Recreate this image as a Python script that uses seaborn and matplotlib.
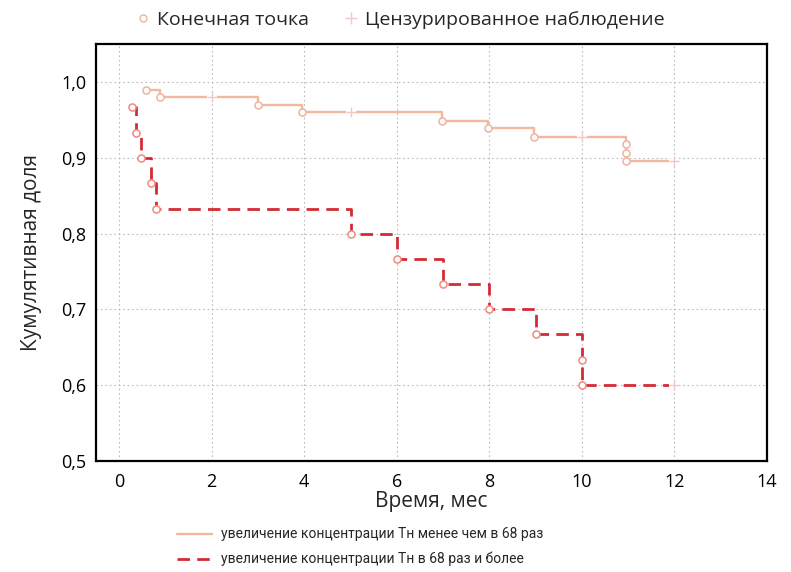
import numpy as np
import pandas as pd
import matplotlib
matplotlib.use("Agg")
import matplotlib.pyplot as plt
from matplotlib.lines import Line2D
import seaborn as sns

# ---- data ----
g1_label = "увеличение концентрации Тн менее чем в 68 раз"
g2_label = "увеличение концентрации Тн в 68 раз и более"

g1_event_t = [0.58, 0.88, 3.0, 3.95, 6.97, 7.97, 8.97, 10.95, 10.95, 10.95]
g1_event_s = [0.990, 0.980, 0.970, 0.960, 0.949, 0.939, 0.928, 0.918, 0.907, 0.896]
g1_cens_t = [2.0, 5.0, 10.0, 12.0]
g1_cens_s = [0.980, 0.960, 0.928, 0.896]

g2_event_t = [0.27, 0.36, 0.48, 0.69, 0.79, 5.0, 6.0, 7.0, 8.0, 9.0, 10.0, 10.0]
g2_event_s = [0.967, 0.933, 0.900, 0.867, 0.833, 0.800, 0.767, 0.733, 0.700, 0.667, 0.633, 0.600]
g2_cens_t = [12.0]
g2_cens_s = [0.600]

x_ticks = [0, 2, 4, 6, 8, 10, 12, 14]
y_ticks = [0.5, 0.6, 0.7, 0.8, 0.9, 1.0]
y_tick_labels = ["0,5", "0,6", "0,7", "0,8", "0,9", "1,0"]

# ---- style ----
sns.set_theme(style="white")
plt.rcParams['font.family'] = ['Open Sans', 'DejaVu Sans']

c1 = "#F3B9A0"
c2 = "#D32B36"
c1_mark = "#EFB3A0"
c2_mark = "#F08A80"
cens_col = "#F6C6C6"

fig = plt.figure(figsize=(7.91, 5.72), dpi=100)
ax = fig.add_axes([96/791, 1-460.7/572, (767-96)/791, (460.7-44.3)/572])

# step lines
d1 = pd.DataFrame({"t": g1_event_t + [g1_cens_t[-1]], "s": g1_event_s + [g1_cens_s[-1]]})
d2 = pd.DataFrame({"t": g2_event_t + [g2_cens_t[-1]], "s": g2_event_s + [g2_cens_s[-1]]})
sns.lineplot(data=d1, x="t", y="s", ax=ax, estimator=None, sort=False,
             drawstyle="steps-post", color=c1, lw=1.7, zorder=3)
sns.lineplot(data=d2, x="t", y="s", ax=ax, estimator=None, sort=False,
             drawstyle="steps-post", color=c2, lw=2.0, zorder=3,
             dashes=False, linestyle=(0, (4.5, 2.6)))

# censor gaps + marks
cens_t = g1_cens_t + g2_cens_t
cens_s = g1_cens_s + g2_cens_s
dc = pd.DataFrame({"t": cens_t, "s": cens_s})
sns.scatterplot(data=dc, x="t", y="s", ax=ax, marker="_", s=60, color="white",
                linewidth=4, zorder=4)
sns.scatterplot(data=dc, x="t", y="s", ax=ax, marker="+", s=60, color=cens_col,
                linewidth=1.0, zorder=5)

# event markers
de1 = pd.DataFrame({"t": g1_event_t, "s": g1_event_s})
de2 = pd.DataFrame({"t": g2_event_t, "s": g2_event_s})
sns.scatterplot(data=de1, x="t", y="s", ax=ax, marker="o", s=26, facecolor="white",
                edgecolor=c1_mark, linewidth=1.1, zorder=6)
sns.scatterplot(data=de2, x="t", y="s", ax=ax, marker="o", s=26, facecolor="white",
                edgecolor=c2_mark, linewidth=1.1, zorder=6)

ax.set_xlim(-0.5, 14)
ax.set_ylim(0.5, 1.05)
ax.set_xticks(x_ticks)
ax.set_yticks(y_ticks)
ax.set_yticklabels(y_tick_labels)
ax.tick_params(direction="in", length=5, width=1.5, labelsize=13, colors="black",
               pad=7)
ax.tick_params(axis="x", pad=9)
for sp in ax.spines.values():
    sp.set_visible(True)
    sp.set_color("black")
    sp.set_linewidth(1.6)
ax.grid(True, linestyle=(0, (1.5, 2.5)), color="#BBBBBB", lw=0.8)
ax.set_axisbelow(True)
ax.set_xlabel("Время, мес", fontsize=15, labelpad=0)
ax.set_ylabel("Кумулятивная доля", fontsize=15, labelpad=14)

# top legend
h_event = Line2D([], [], marker="o", ls="none", markersize=5, markerfacecolor="white",
                 markeredgecolor=c1_mark, markeredgewidth=1.0)
h_cens = Line2D([], [], marker="+", ls="none", markersize=8, color=cens_col,
                markeredgewidth=1.0)
fig.legend([h_event, h_cens], ["Конечная точка", "Цензурированное наблюдение"],
           loc="upper center", bbox_to_anchor=(0.503, 1.012), ncol=2, frameon=False,
           fontsize=14, handletextpad=0.1, columnspacing=1.6, handlelength=1.2)

# bottom legend
h1 = Line2D([], [], color=c1, lw=1.7)
h2 = Line2D([], [], color=c2, lw=2.0, linestyle=(0, (4.5, 2.6)))
fig.legend([h1, h2], [g1_label, g2_label], loc="lower left",
           bbox_to_anchor=(0.208, -0.012), ncol=1, frameon=False,
           prop={"family": ["Liberation Sans Narrow", "DejaVu Sans Condensed", "Roboto", "DejaVu Sans"], "size": 10},
           handlelength=2.5, handletextpad=0.7, labelspacing=0.75)

fig.savefig("out.png", dpi=100)
